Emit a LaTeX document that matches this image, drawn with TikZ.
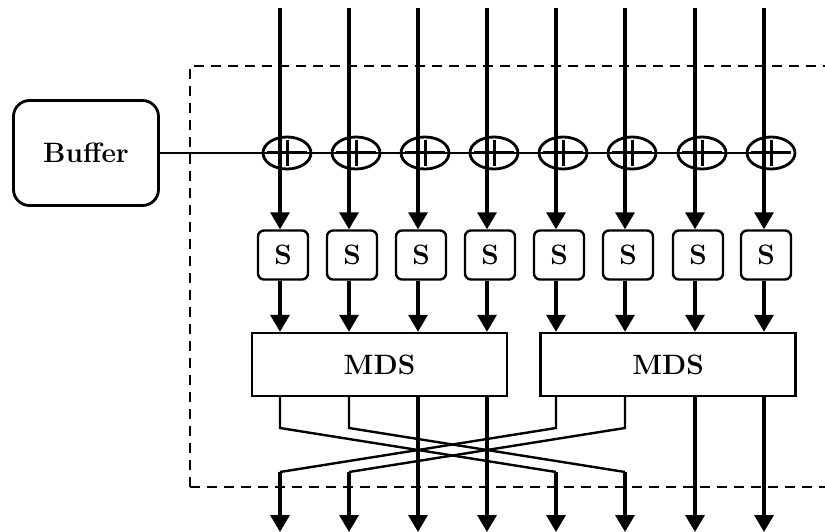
\documentclass[tikz,border=0pt]{standalone}
\usetikzlibrary{shapes.geometric,arrows.meta}
\tikzset{
  blk/.style={draw, line width=2.4pt, inner sep=0pt, font=\fontsize{28}{32}\selectfont\bfseries},
  bufbox/.style={blk, line width=2.8pt, rounded corners=16pt, minimum width=145pt, minimum height=105pt},
  sbox/.style={blk, rounded corners=6pt, minimum width=50pt, minimum height=49pt},
  mdsbox/.style={blk, minimum width=255pt, minimum height=63pt},
  xor/.style={ellipse, draw, line width=2.8pt, inner sep=0pt, minimum width=48pt, minimum height=32pt,
    path picture={\draw[line width=3pt]
      ([yshift=-3pt]path picture bounding box.north) -- ([yshift=3pt]path picture bounding box.south)
      ([xshift=4pt]path picture bounding box.west) -- ([xshift=-4pt]path picture bounding box.east);}},
  arr/.style={line width=3.4pt, -{Triangle[width=19pt,length=17pt]}},
  wire/.style={line width=2.4pt},
}
\begin{document}
\begin{tikzpicture}[x=1pt,y=-1pt]
\useasboundingbox (0,0) rectangle (825,532);
    % frame of the round
    \draw [line width=2.4pt, dash pattern=on 10pt off 7pt] (190,487) -- (190,66) -- (840,66);
    \draw [line width=2.4pt, dash pattern=on 10pt off 7pt] (190,487) -- (840,487);
    % inputs and outputs
    \coordinate (in1) at (280,8);  \coordinate (out1) at (280,532);
    \coordinate (in2) at (349,8);  \coordinate (out2) at (349,532);
    \coordinate (in3) at (418,8);  \coordinate (out3) at (418,532);
    \coordinate (in4) at (487,8);  \coordinate (out4) at (487,532);
    \coordinate (in5) at (556,8);  \coordinate (out5) at (556,532);
    \coordinate (in6) at (625,8);  \coordinate (out6) at (625,532);
    \coordinate (in7) at (695,8);  \coordinate (out7) at (695,532);
    \coordinate (in8) at (764,8);  \coordinate (out8) at (764,532);
    \node[bufbox] (buffer) at (86,153) {Buffer};
    \node[sbox] (s1) at (283,255) {S};
    \node[sbox] (s2) at (352,255) {S};
    \node[sbox] (s3) at (421,255) {S};
    \node[sbox] (s4) at (490,255) {S};
    \node[sbox] (s5) at (559,255) {S};
    \node[sbox] (s6) at (628,255) {S};
    \node[sbox] (s7) at (698,255) {S};
    \node[sbox] (s8) at (766,255) {S};
    \node[mdsbox] (mds1) at (379.5,364.5) {MDS};
    \node[mdsbox] (mds2) at (668,364.5) {MDS};
    % key line from the buffer
    \draw [wire] (buffer.east) -- (771,153);
    \draw [arr] (in1) -- (s1.north -| in1);
    \draw [arr] (in2) -- (s2.north -| in2);
    \draw [arr] (in3) -- (s3.north -| in3);
    \draw [arr] (in4) -- (s4.north -| in4);
    \draw [arr] (in5) -- (s5.north -| in5);
    \draw [arr] (in6) -- (s6.north -| in6);
    \draw [arr] (in7) -- (s7.north -| in7);
    \draw [arr] (in8) -- (s8.north -| in8);
    \node[xor] (xor1) at (287,153) {};
    \node[xor] (xor2) at (356,153) {};
    \node[xor] (xor3) at (425,153) {};
    \node[xor] (xor4) at (494,153) {};
    \node[xor] (xor5) at (563,153) {};
    \node[xor] (xor6) at (632,153) {};
    \node[xor] (xor7) at (702,153) {};
    \node[xor] (xor8) at (771,153) {};
    \draw [arr] (s1.south -| in1) -- (mds1.north -| in1);
    \draw [arr] (s2.south -| in2) -- (mds1.north -| in2);
    \draw [arr] (s3.south -| in3) -- (mds1.north -| in3);
    \draw [arr] (s4.south -| in4) -- (mds1.north -| in4);
    \draw [arr] (s5.south -| in5) -- (mds2.north -| in5);
    \draw [arr] (s6.south -| in6) -- (mds2.north -| in6);
    \draw [arr] (s7.south -| in7) -- (mds2.north -| in7);
    \draw [arr] (s8.south -| in8) -- (mds2.north -| in8);
    % swap of the halves
    \coordinate (up1) at (280,428); \coordinate (lo1) at (280,472);
    \coordinate (up2) at (349,428); \coordinate (lo2) at (349,472);
    \coordinate (up5) at (556,428); \coordinate (lo5) at (556,472);
    \coordinate (up6) at (625,428); \coordinate (lo6) at (625,472);
    \draw [wire] (mds1.south -| in1) -- (up1) -- (lo5);
    \draw [wire] (mds1.south -| in2) -- (up2) -- (lo6);
    \draw [wire] (mds2.south -| in5) -- (up5) -- (lo1);
    \draw [wire] (mds2.south -| in6) -- (up6) -- (lo2);
    \draw [arr] (lo1) -- (out1);
    \draw [arr] (lo2) -- (out2);
    \draw [arr] (mds1.south -| in3) -- (out3);
    \draw [arr] (mds1.south -| in4) -- (out4);
    \draw [arr] (lo5) -- (out5);
    \draw [arr] (lo6) -- (out6);
    \draw [arr] (mds2.south -| in7) -- (out7);
    \draw [arr] (mds2.south -| in8) -- (out8);
\end{tikzpicture}
\end{document}
